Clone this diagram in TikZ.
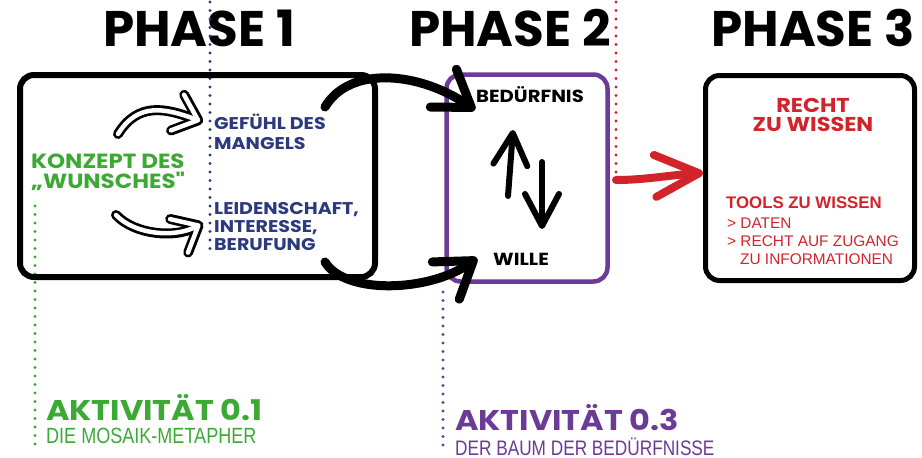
\documentclass[tikz,border=0pt]{standalone}
\usepackage{fontspec}
\setmainfont{Poppins}
\newfontfamily\widefont[FakeStretch=1.12]{Poppins}
\newfontfamily\plainfont{Liberation Sans}
\newfontfamily\narrowfont[FakeStretch=0.82]{Liberation Sans}
\usetikzlibrary{arrows.meta}
\definecolor{wishgreen}{HTML}{3DA935}
\definecolor{needblue}{HTML}{2B3A7C}
\definecolor{treepurple}{HTML}{6C3A97}
\definecolor{knowred}{HTML}{D2232A}

\begin{document}
\begin{tikzpicture}[x=1pt,y=-1pt]

    \tikzset{
      phase/.style={anchor=base, inner sep=0pt, font=\bfseries\fontsize{50}{50}\selectfont},
      frame/.style={draw, rounded corners=14pt, inner sep=0pt},
      label/.style={anchor=base west, align=left, inner sep=0pt},
      dots/.style={line width=3.3pt, line cap=round, dash pattern=on 0pt off 8.5pt},
      bigarrow/.style={line width=9pt, line cap=round,
        -{Straight Barb[length=34pt, width=46pt, round]}},
      updown/.style={line width=6pt, line cap=round,
        -{Straight Barb[length=32pt, width=34pt, round]}},
      hollow/.style={line width=10pt, line cap=round,
        -{Straight Barb[length=22pt, width=38pt, round]}},
    }
    \useasboundingbox (0,0) rectangle (922,458);

    % headings
    \node[phase] (ph1) at (199,46) {PHASE 1};
    \node[phase] (ph2) at (510,46) {PHASE 2};
    \node[phase] (ph3) at (813,46) {PHASE 3};

    % dotted guides
    \draw[dots, color=needblue] (210,2) -- (210,256);
    \draw[dots, color=knowred] (616,2) -- (616,172);
    \draw[dots, color=wishgreen] (35,206) -- (35,444);
    \draw[dots, color=treepurple] (443,292) -- (443,452);

    % frames
    \node[frame, line width=6pt, minimum width=355pt, minimum height=202pt] (box1) at (197.5,176) {};
    \node[frame, line width=4.5pt, draw=treepurple, minimum width=161pt, minimum height=207pt] (box2) at (527,178) {};
    \node[frame, line width=5pt, minimum width=209pt, minimum height=205pt] (box3) at (810,178) {};

    % phase 1
    \node[label, color=wishgreen, font=\widefont\bfseries\fontsize{20.5}{19.5}\selectfont] (wish) at (31,188) {KONZEPT DES\\„WUNSCHES"};
    \node[label, color=needblue, font=\widefont\bfseries\fontsize{17}{20}\selectfont] (lack) at (214,149) {GEFÜHL DES\\MANGELS};
    \node[label, color=needblue, font=\widefont\bfseries\fontsize{17}{18}\selectfont] (passion) at (214,250) {LEIDENSCHAFT,\\INTERESSE,\\BERUFUNG};

    \coordinate (t1) at (118,134);
    \coordinate (h1) at (203,122);
    \coordinate (t2) at (116,215);
    \coordinate (h2) at (203,223);
    \draw[hollow] (t1) .. controls (138,102) and (165,108) .. (h1);
    \draw[hollow, line width=4.5pt, white, shorten >=3pt] (t1) .. controls (138,102) and (165,108) .. (h1);
    \draw[hollow] (t2) .. controls (135,235) and (175,238) .. (h2);
    \draw[hollow, line width=4.5pt, white, shorten >=3pt] (t2) .. controls (135,235) and (175,238) .. (h2);

    % phase 2
    \node[anchor=base, inner sep=0pt, font=\widefont\bfseries\fontsize{17.5}{17.5}\selectfont] (need) at (530,102) {BEDÜRFNIS};
    \node[anchor=base, inner sep=0pt, font=\widefont\bfseries\fontsize{17.5}{17.5}\selectfont] (will) at (521,265) {WILLE};
    \coordinate (upfoot) at (508,196);
    \coordinate (uptip) at (513,130);
    \coordinate (downtop) at (542,162);
    \coordinate (downtip) at (542,229);
    \draw[updown] (upfoot) -- (uptip);
    \draw[updown] (downtop) -- (downtip);

    \coordinate (s1) at (325,107);
    \coordinate (e1) at (475,110);
    \coordinate (s2) at (325,262);
    \coordinate (e2) at (477,258);
    \draw[bigarrow] (s1) .. controls (350,65) and (420,72) .. (e1);
    \draw[bigarrow] (s2) .. controls (345,295) and (430,292) .. (e2);

    % phase 3
    \node[anchor=base, align=center, inner sep=0pt, color=knowred, font=\widefont\bfseries\fontsize{20}{19}\selectfont] (right) at (813,131) {RECHT\\ZU WISSEN};
    \node[label, color=knowred, font=\plainfont\bfseries\fontsize{16.8}{18}\selectfont] (tools) at (726,208) {TOOLS ZU WISSEN};
    \node[label, color=knowred, font=\plainfont\fontsize{15.4}{18}\selectfont] (data) at (727,264) {> DATEN\\> RECHT AUF ZUGANG\\\hspace*{13pt}ZU INFORMATIONEN};
    \draw[color=knowred, line width=8pt, line cap=round,
      -{Straight Barb[length=44pt, width=42pt, round]}] (616,180) .. controls (645,180) and (670,175) .. (box3.west |- 0,173);

    % activities
    \node[label, color=wishgreen, font=\narrowfont\fontsize{22}{23}\selectfont] (act1) at (46,443) {{\widefont\bfseries\fontsize{28.5}{28}\selectfont AKTIVITÄT 0.1}\\DIE MOSAIK-METAPHER};
    \node[label, color=treepurple, font=\narrowfont\fontsize{21}{25}\selectfont] (act3) at (455,455) {{\widefont\bfseries\fontsize{28.5}{28}\selectfont AKTIVITÄT 0.3}\\DER BAUM DER BEDÜRFNISSE};

\end{tikzpicture}
\end{document}
